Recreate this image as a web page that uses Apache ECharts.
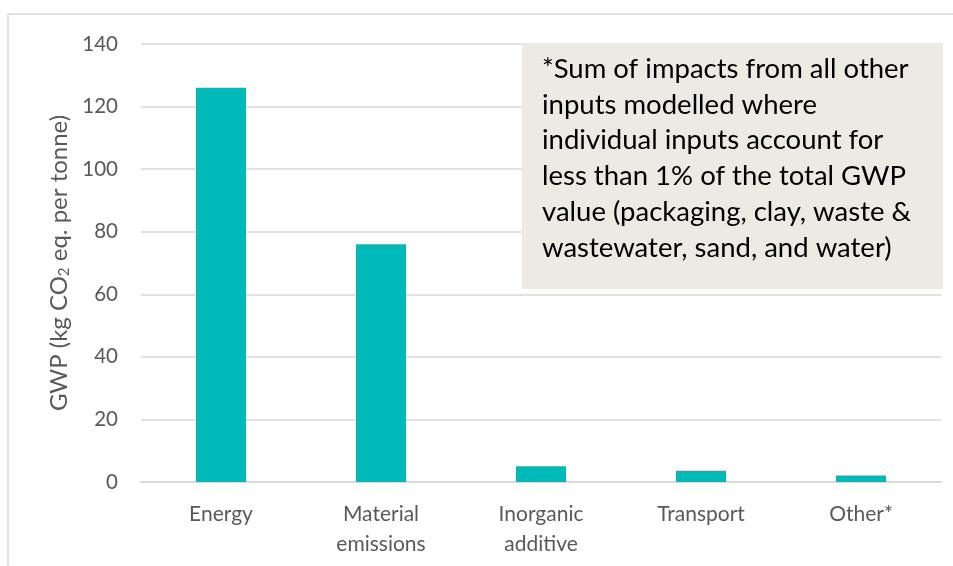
<!DOCTYPE html>
<html>
<head>
<meta charset="utf-8">
<script src="https://cdn.jsdelivr.net/npm/echarts@6/dist/echarts.min.js"></script>
<style>
  html, body { margin: 0; padding: 0; background: #fff; }
  #chart { width: 953px; height: 566px; }
</style>
</head>
<body>
<div id="chart"></div>
<script>
const categories = ["Energy", "Material\nemissions", "Inorganic\nadditive", "Transport", "Other*"];
const gwpValues = [126, 76, 5, 3.6, 2.1];
const yTicks = { min: 0, max: 140, interval: 20 };
const noteLines = [
  "*Sum of impacts from all other",
  "inputs modelled where",
  "individual inputs account for",
  "less than 1% of the total GWP",
  "value (packaging, clay, waste &",
  "wastewater, sand, and water)"
];

const font = "Lato";
const chart = echarts.init(document.getElementById("chart"), null, { renderer: "canvas" });

chart.setOption({
  animation: false,
  backgroundColor: "#fff",
  textStyle: { fontFamily: font },
  grid: { left: 141, right: 12, top: 44, bottom: 84 },
  xAxis: {
    type: "category",
    data: categories,
    axisLine: { lineStyle: { color: "#D9D9D9", width: 2 } },
    axisTick: { show: false },
    axisLabel: { color: "#595959", fontSize: 21, lineHeight: 30, margin: 17, fontFamily: font }
  },
  yAxis: {
    type: "value",
    min: yTicks.min,
    max: yTicks.max,
    interval: yTicks.interval,
    axisLine: { show: false },
    axisTick: { show: false },
    splitLine: { lineStyle: { color: "#D9D9D9", width: 1.5 } },
    axisLabel: { color: "#595959", fontSize: 20.5, margin: 23, fontFamily: font },
    name: "{a|GWP (kg CO}{s|2}{a| eq. per tonne)}",
    nameLocation: "middle",
    nameGap: 66,
    nameRotate: 90,
    nameTextStyle: {
      rich: {
        a: { color: "#595959", fontSize: 24, fontFamily: font },
        s: { color: "#595959", fontSize: 15, fontFamily: font, padding: [0, 0, -9, 0] }
      }
    }
  },
  series: [{
    type: "bar",
    data: gwpValues,
    barWidth: 50,
    itemStyle: { color: "#00B9B9" }
  }],
  graphic: [
    {
      type: "rect",
      silent: true,
      shape: { x: 8, y: 14, width: 960, height: 600 },
      style: { fill: "none", stroke: "#D9D9D9", lineWidth: 1.5 },
      z: -1
    },
    {
      type: "group",
      left: 522,
      top: 43,
      z: 100,
      children: [
        {
          type: "rect",
          z: 100,
          shape: { x: 0, y: 0, width: 421, height: 246 },
          style: { fill: "#ECEAE2" }
        },
        {
          type: "text",
          z: 101,
          x: 20,
          y: 8,
          style: {
            text: noteLines.join("\n"),
            fill: "#000",
            fontSize: 27.5,
            lineHeight: 35.8,
            fontFamily: font
          }
        }
      ]
    }
  ]
});
</script>
</body>
</html>
